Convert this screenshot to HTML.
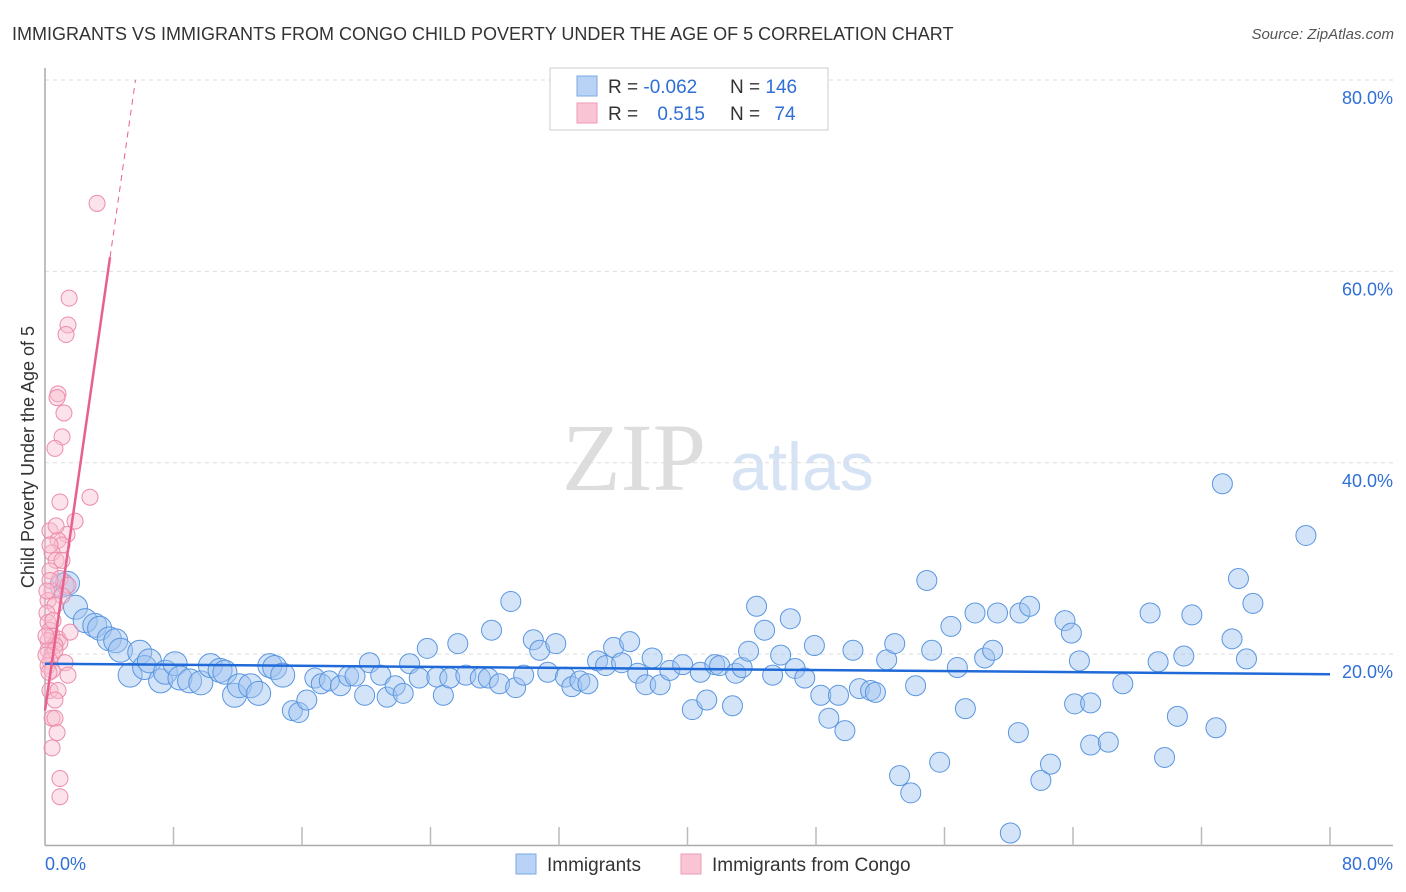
<!DOCTYPE html>
<html><head><meta charset="utf-8">
<style>
body{margin:0;background:#fff;font-family:"Liberation Sans",sans-serif;}
svg{display:block}
</style></head>
<body>
<svg id="chart" width="1406" height="892" xmlns="http://www.w3.org/2000/svg">
<text x="12" y="40" font-size="18" fill="#333">IMMIGRANTS VS IMMIGRANTS FROM CONGO CHILD POVERTY UNDER THE AGE OF 5 CORRELATION CHART</text>
<text x="1394" y="39" font-size="15" fill="#555" font-style="italic" text-anchor="end">Source: ZipAtlas.com</text>
<text x="634" y="490" font-size="96" fill="#ddd" font-family="Liberation Serif,serif" text-anchor="middle">ZIP</text>
<text x="802" y="490" font-size="68" fill="#d6e3f5" text-anchor="middle">atlas</text>
<g id="grid"></g>
<g id="axes"></g>
<g id="pts"></g>
<g id="lines"></g>
<text transform="translate(34,457) rotate(-90)" font-size="18" fill="#333" text-anchor="middle">Child Poverty Under the Age of 5</text>
<g>
<rect x="550" y="68" width="278" height="62" fill="#fff" stroke="#ccc"/>
<rect x="577" y="76" width="20" height="20" fill="#b8d3f5" stroke="#7aa8e6"/>
<rect x="577" y="103" width="20" height="20" fill="#f9c5d5" stroke="#ee9ab5"/>
<text x="608" y="93" font-size="19" fill="#333">R = <tspan fill="#2f6fd6">-0.062</tspan></text>
<text x="730" y="93" font-size="19" fill="#333">N = <tspan fill="#2f6fd6">146</tspan></text>
<text x="608" y="120" font-size="19" fill="#333">R = <tspan fill="#2f6fd6" dx="14">0.515</tspan></text>
<text x="730" y="120" font-size="19" fill="#333">N = <tspan fill="#2f6fd6" dx="9">74</tspan></text>
</g>
<g>
<rect x="516" y="854" width="20" height="20" fill="#b8d3f5" stroke="#7aa8e6"/>
<text x="547" y="871" font-size="19" fill="#333">Immigrants</text>
<rect x="681" y="854" width="20" height="20" fill="#f9c5d5" stroke="#ee9ab5"/>
<text x="712" y="871" font-size="19" fill="#333">Immigrants from Congo</text>
</g>
</svg>
<script>
const blueX=[1.06,1.4,1.9,2.5,3.1,3.4,4.0,4.4,4.7,5.3,5.9,6.2,6.5,7.2,7.5,8.1,8.4,9.0,9.7,10.3,10.9,11.2,11.8,12.1,12.8,13.3,14.0,14.3,14.8,15.4,15.8,16.3,16.8,17.2,17.7,18.4,18.9,19.3,19.9,20.2,20.9,21.3,21.8,22.3,22.7,23.3,23.8,24.4,24.8,25.2,25.7,26.2,27.1,27.6,27.8,28.3,29.0,29.3,29.8,30.4,30.8,31.3,31.8,32.4,32.8,33.3,33.8,34.4,34.9,35.4,35.9,36.4,36.9,37.4,37.8,38.3,38.9,39.7,40.3,40.8,41.2,41.7,42.0,42.8,43.0,43.4,43.8,44.3,44.8,45.3,45.8,46.4,46.7,47.3,47.9,48.3,48.8,49.4,49.8,50.3,50.7,51.4,51.7,52.4,52.9,53.2,53.9,54.2,54.9,55.2,55.7,56.4,56.8,57.3,57.9,58.5,59.0,59.3,60.1,60.6,60.7,61.3,62.0,62.6,63.5,63.9,64.1,64.4,65.1,65.1,66.2,67.1,68.8,69.3,69.7,70.5,70.9,71.4,72.9,73.3,73.9,74.3,74.8,75.2,78.5];
const blueY=[27.2,27.4,24.9,23.5,23.0,22.7,21.6,21.4,20.4,17.8,20.2,18.6,19.3,17.2,18.1,19.0,17.5,17.2,17.0,18.8,18.3,18.1,15.7,16.7,16.7,15.9,18.8,18.6,17.8,14.1,13.9,15.2,17.5,16.9,17.2,16.7,17.7,17.7,15.7,19.1,17.8,15.5,16.7,15.9,19.0,17.5,20.6,17.6,15.7,17.5,21.1,17.8,17.5,17.5,22.5,16.9,25.5,16.5,17.8,21.5,20.4,18.1,21.1,17.6,16.6,17.2,16.9,19.3,18.8,20.7,19.1,21.3,18.0,16.8,19.6,16.8,18.3,18.9,14.2,18.1,15.2,18.9,18.8,14.6,18.0,18.6,20.3,25.0,22.5,17.8,19.9,23.7,18.5,17.5,20.9,15.7,13.3,15.7,12.0,20.4,16.4,16.2,16.0,19.4,21.1,7.3,5.5,16.7,27.7,20.4,8.7,22.9,18.6,14.3,24.3,19.6,20.4,24.3,1.3,11.8,24.3,25.0,6.8,8.5,23.5,22.2,14.8,19.3,14.9,10.5,10.8,16.9,24.3,19.2,9.2,13.5,19.8,24.1,12.3,37.8,21.6,27.9,19.5,25.3,32.4];
const pinkX=[3.24,1.5,1.43,1.31,0.81,0.75,1.18,1.06,0.62,2.8,0.93,1.87,0.31,1.37,0.81,1.06,0.44,0.69,0.31,0.93,1.43,0.44,1.06,0.19,0.62,0.12,0.19,0.31,0.44,0.81,0.19,0.93,0.62,0.19,0.44,0.62,0.31,1.25,0.19,1.43,0.44,0.31,0.81,0.62,0.44,0.62,0.75,0.44,0.93,0.93,1.56,0.31,0.5,0.12,1.06,0.69,0.31,0.06,0.06,0.25];
const pinkY=[67.1,57.2,54.4,53.4,47.2,46.8,45.2,42.7,41.5,36.4,35.9,33.9,32.9,32.5,31.9,31.4,30.6,29.8,28.7,27.9,27.2,26.6,26.1,25.6,25.1,24.3,23.3,22.5,21.9,21.6,21.4,21.2,20.9,20.4,19.9,20.4,19.3,19.1,18.8,17.8,18.3,16.2,16.2,15.2,13.3,13.3,11.8,10.2,7.0,5.1,22.3,27.7,23.5,26.6,29.8,33.4,31.4,21.9,19.9,18.1];
const yTicks=[20,40,60,80];
const xTickLabels=["0.0%","80.0%"];
const blueTrend=[19.0,17.9];
const pinkTrend=[14.1,11.7];

const NS="http://www.w3.org/2000/svg";
const X0=45,X1=1330,Y0=845.5,Y80=80;
function sx(v){return X0+(X1-X0)*v/80;}
function sy(v){return Y0-(Y0-Y80)*v/80;}
function mk(tag,attrs,parent){const e=document.createElementNS(NS,tag);for(const k in attrs)e.setAttribute(k,attrs[k]);parent.appendChild(e);return e;}
const grid=document.getElementById('grid'),axes=document.getElementById('axes'),pts=document.getElementById('pts'),lines=document.getElementById('lines');
yTicks.forEach(t=>{
  const l=mk('line',{x1:X0,x2:1393,y1:sy(t),y2:sy(t),stroke:'#ddd','stroke-dasharray':'4,4'},grid);
  
  
  const tx=mk('text',{x:1393,y:sy(t)+24,'font-size':18,fill:'#2f6fd6','text-anchor':'end'},grid);
  tx.textContent=t.toFixed(1)+'%';
  
  
});
const ya=mk('line',{x1:X0,x2:X0,y1:68,y2:Y0,stroke:'#aaa','stroke-width':1.5},axes);


const xa=mk('line',{x1:X0,x2:1393,y1:Y0,y2:Y0,stroke:'#aaa','stroke-width':1.5},axes);


for(let i=1;i<=10;i++){
  const tk=mk('line',{x1:sx(i*8),x2:sx(i*8),y1:827,y2:Y0,stroke:'#bbb','stroke-width':1.5},axes);
  
  
}
const xl0=mk('text',{x:45,y:870,'font-size':18,fill:'#2f6fd6'},axes);
xl0.textContent=xTickLabels[0];


const xl1=mk('text',{x:1393,y:870,'font-size':18,fill:'#2f6fd6','text-anchor':'end'},axes);
xl1.textContent=xTickLabels[1];


blueX.forEach((x,i)=>{
  const c=mk('circle',{cx:sx(x),cy:sy(blueY[i]),r:x<15?12:10,fill:'rgba(160,196,240,0.45)',stroke:'#5a96e0','stroke-width':1},pts);
  
  
});
pinkX.forEach((x,i)=>{
  const c=mk('circle',{cx:sx(x),cy:sy(pinkY[i]),r:8,fill:'rgba(248,190,208,0.45)',stroke:'#ec8cab','stroke-width':1},pts);
  
  
});
const bl=mk('line',{x1:sx(0),y1:sy(blueTrend[0]),x2:sx(80),y2:sy(blueTrend[1]),stroke:'#1f6ad8','stroke-width':2.5},lines);


const xs=4.05,xe=(80-pinkTrend[0])/pinkTrend[1];
const pl=mk('line',{x1:sx(0),y1:sy(pinkTrend[0]),x2:sx(xs),y2:sy(pinkTrend[0]+pinkTrend[1]*xs),stroke:'#e8608e','stroke-width':2.5},lines);


const pd=mk('line',{x1:sx(xs),y1:sy(pinkTrend[0]+pinkTrend[1]*xs),x2:sx(xe),y2:sy(80),stroke:'#e8608e','stroke-width':1,'stroke-dasharray':'6,5'},lines);


</script>
</body></html>
